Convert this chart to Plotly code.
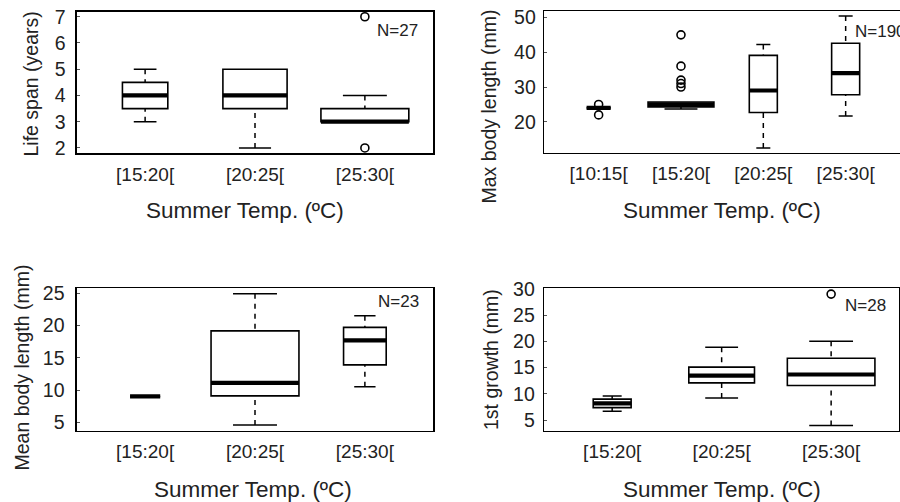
import math
import plotly.graph_objects as go

# ---------------- data ----------------
life_cats = ["[15:20[", "[20:25[", "[25:30["]
life_n = [4, 8, 15]
life_q1 = [3.5, 3.5, 3.0]
life_med = [4.0, 4.0, 3.0]
life_q3 = [4.5, 5.0, 3.5]
life_lo = [3.0, 2.0, 3.0]
life_hi = [5.0, 5.0, 4.0]
life_out = [[], [], [7.0, 2.0]]

max_cats = ["[10:15[", "[15:20[", "[20:25[", "[25:30["]
max_n = [17, 127, 23, 23]
max_q1 = [24.0, 24.3, 22.7, 27.8]
max_med = [24.0, 25.0, 29.0, 34.0]
max_q3 = [24.0, 25.7, 39.1, 42.6]
max_lo = [24.0, 23.7, 12.5, 21.7]
max_hi = [24.0, 25.7, 42.2, 50.4]
max_out = [[25.0, 22.0], [45.0, 36.0, 32.0, 31.0, 30.0], [], []]

mean_cats = ["[15:20[", "[20:25[", "[25:30["]
mean_n = [2, 17, 4]
mean_q1 = [9.0, 9.1, 13.9]
mean_med = [9.0, 11.1, 17.7]
mean_q3 = [9.0, 19.15, 19.7]
mean_lo = [9.0, 4.6, 10.5]
mean_hi = [9.0, 24.9, 21.5]
mean_out = [[], [], []]

grow_cats = ["[15:20[", "[20:25[", "[25:30["]
grow_n = [3, 9, 16]
grow_q1 = [7.4, 12.1, 11.6]
grow_med = [8.2, 13.5, 13.7]
grow_q3 = [9.0, 15.1, 16.8]
grow_lo = [6.7, 9.2, 4.0]
grow_hi = [9.6, 18.9, 20.0]
grow_out = [[], [], [29.0]]

W, H = 900, 502
FONT = "Liberation Sans, Arial, Helvetica, sans-serif"

panels = [
    dict(cats=life_cats, n=life_n, q1=life_q1, med=life_med, q3=life_q3, lo=life_lo, hi=life_hi,
         out=life_out, ytitle="Life span (years)", N="N=27", yrange=[1.8, 7.2],
         dom_px=(77, 433, 11.5, 153.2), ytv=[2, 3, 4, 5, 6, 7],
         xt_c=245, xt_y=210, yt_x=31, yt_y=84.5, n_pos=(375.3, 31), standoff=6),
    dict(cats=max_cats, n=max_n, q1=max_q1, med=max_med, q3=max_q3, lo=max_lo, hi=max_hi,
         out=max_out, ytitle="Max body length (mm)", N="N=190", yrange=[11.1, 51.8],
         dom_px=(544.3, 900, 11.2, 152.8), ytv=[20, 30, 40, 50],
         xt_c=721.5, xt_y=210, yt_x=488, yt_y=106.5, n_pos=(853.3, 31.7), standoff=3),
    dict(cats=mean_cats, n=mean_n, q1=mean_q1, med=mean_med, q3=mean_q3, lo=mean_lo, hi=mean_hi,
         out=mean_out, ytitle="Mean body length (mm)", N="N=23", yrange=[3.7, 25.75],
         dom_px=(77, 433, 288.3, 430.7), ytv=[5, 10, 15, 20, 25],
         xt_c=253, xt_y=489, yt_x=21, yt_y=367.5, n_pos=(376, 301.7), standoff=7),
    dict(cats=grow_cats, n=grow_n, q1=grow_q1, med=grow_med, q3=grow_q3, lo=grow_lo, hi=grow_hi,
         out=grow_out, ytitle="1st growth (mm)", N="N=28", yrange=[3.0, 30.1],
         dom_px=(544.3, 899, 288.3, 430.7), ytv=[5, 10, 15, 20, 25, 30],
         xt_c=722, xt_y=489, yt_x=491, yt_y=360, n_pos=(843.3, 305), standoff=4),
]

fig = go.Figure()
annotations = []
layout = {}

for i, p in enumerate(panels):
    k = "" if i == 0 else str(i + 1)
    xa, ya = "x" + k, "y" + k
    ncat = len(p["cats"])
    pos = list(range(1, ncat + 1))
    nmax = max(p["n"])
    widths = [0.8 * math.sqrt(v / nmax) for v in p["n"]]

    for j in range(ncat):
        x0 = pos[j]
        w = widths[j]
        # box body
        fig.add_trace(go.Box(
            x=[x0], q1=[p["q1"][j]], median=[p["med"][j]], q3=[p["q3"][j]],
            lowerfence=[p["q1"][j]], upperfence=[p["q3"][j]],
            width=w, whiskerwidth=0, fillcolor="white",
            line=dict(color="black", width=1.6), boxpoints=False,
            xaxis=xa, yaxis=ya, showlegend=False, hoverinfo="skip"))
        # whiskers (dashed) and staples
        for end, edge in ((p["hi"][j], p["q3"][j]), (p["lo"][j], p["q1"][j])):
            if abs(end - edge) > 1e-9:
                fig.add_trace(go.Scatter(
                    x=[x0, x0], y=[end, edge], mode="lines",
                    line=dict(color="black", width=1.5, dash="5px,5px"),
                    xaxis=xa, yaxis=ya, showlegend=False, hoverinfo="skip"))
                fig.add_trace(go.Scatter(
                    x=[x0 - w / 4, x0 + w / 4], y=[end, end], mode="lines",
                    line=dict(color="black", width=1.5),
                    xaxis=xa, yaxis=ya, showlegend=False, hoverinfo="skip"))
        # thick median
        fig.add_trace(go.Scatter(
            x=[x0 - w / 2, x0 + w / 2], y=[p["med"][j], p["med"][j]], mode="lines",
            line=dict(color="black", width=4.2),
            xaxis=xa, yaxis=ya, showlegend=False, hoverinfo="skip"))
        # outliers
        if p["out"][j]:
            fig.add_trace(go.Scatter(
                x=[x0] * len(p["out"][j]), y=p["out"][j], mode="markers",
                marker=dict(symbol="circle-open", size=8, color="black", line=dict(width=1.6)),
                xaxis=xa, yaxis=ya, showlegend=False, hoverinfo="skip", cliponaxis=False))

    L, R, T, B = p["dom_px"]
    ext = 0.04 * ncat
    layout["xaxis" + k] = dict(
        domain=[L / W, R / W], anchor=ya, range=[0.5 - ext, ncat + 0.5 + ext],
        tickmode="array", tickvals=pos, ticktext=p["cats"], automargin=False,
        showline=True, mirror=True, linecolor="black", linewidth=1.6,
        showgrid=False, zeroline=False, ticks="",
        tickfont=dict(family=FONT, size=19, color="#222"), ticklabelstandoff=3)
    layout["yaxis" + k] = dict(
        domain=[1 - B / H, 1 - T / H], anchor=xa, range=p["yrange"],
        tickmode="array", tickvals=p["ytv"], automargin=False,
        showline=True, mirror=True, linecolor="black", linewidth=1.6,
        showgrid=False, zeroline=False, ticks="inside", ticklen=3, tickcolor="#555",
        tickfont=dict(family=FONT, size=19.5, color="#222"),
        ticklabelstandoff=p["standoff"])

    annotations.append(dict(
        text="Summer Temp. (ºC)", xref="paper", yref="paper",
        x=p["xt_c"] / W, y=1 - p["xt_y"] / H, xanchor="center", yanchor="middle",
        showarrow=False, font=dict(family=FONT, size=22.5, color="#222")))
    annotations.append(dict(
        text=p["ytitle"], xref="paper", yref="paper", textangle=-90,
        x=p["yt_x"] / W, y=1 - p["yt_y"] / H, xanchor="center", yanchor="middle",
        showarrow=False, font=dict(family=FONT, size=19.5, color="#222")))
    annotations.append(dict(
        text=p["N"], xref="paper", yref="paper",
        x=p["n_pos"][0] / W, y=1 - p["n_pos"][1] / H, xanchor="left", yanchor="middle",
        showarrow=False, font=dict(family=FONT, size=17, color="#222")))

fig.update_layout(
    width=W, height=H,
    margin=dict(l=0, r=0, t=0, b=0, pad=0, autoexpand=False),
    paper_bgcolor="white", plot_bgcolor="white",
    boxmode="overlay", showlegend=False,
    annotations=annotations,
    **layout)

fig.write_html("out.html",
               config={"displayModeBar": False, "staticPlot": True},
               post_script="document.body.style.margin='0px';document.body.style.overflow='hidden';")
